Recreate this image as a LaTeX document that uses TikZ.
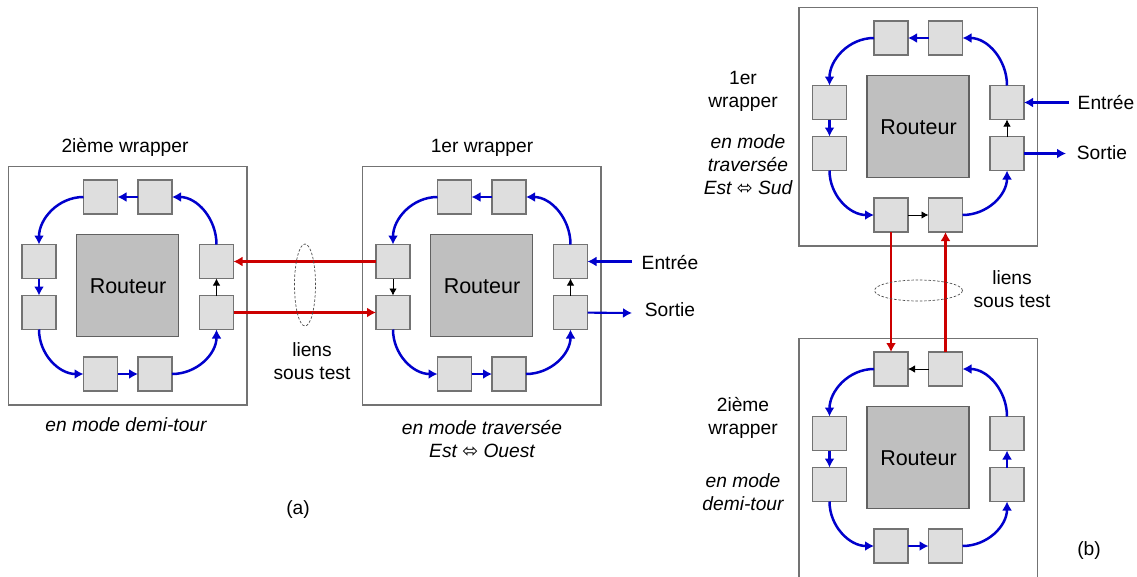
\documentclass[tikz,border=0pt]{standalone}
\usepackage{fontspec}
\setmainfont{Liberation Sans}
\newfontfamily\symfont{DejaVu Sans}
\usetikzlibrary{arrows.meta,shapes.geometric}
\definecolor{bluel}{HTML}{0000CC}
\definecolor{redl}{HTML}{CC0000}
\tikzset{
  outerbox/.style={draw=black!55,line width=1.1pt,fill=white,minimum width=238.5pt,inner sep=0pt,outer sep=0pt},
  routerbox/.style={draw=black!62,line width=1.3pt,fill=black!25,minimum size=102pt,inner sep=0pt,outer sep=0pt,font=\fontsize{21.5}{24}\selectfont},
  smallbox/.style={draw=black!55,line width=1.2pt,fill=black!13,minimum size=34pt,inner sep=0pt,outer sep=0pt},
  bl/.style={draw=bluel,line width=2.5pt,-{Latex[length=9pt,width=10pt]}},
  rd/.style={draw=redl,line width=2.5pt,-{Latex[length=9pt,width=10pt]}},
  bk/.style={draw=black,line width=0.9pt,-{Latex[length=7pt,width=7.5pt]}},
  lab/.style={align=center,inner sep=0pt,yshift=-1.5pt,font=\fontsize{19.2}{23}\selectfont},
  ilab/.style={lab,font=\fontsize{19.2}{23}\selectfont\itshape},
  ell/.style={draw=black!70,line width=0.7pt,dash pattern=on 2.5pt off 1.8pt},
}
\newcommand{\wrapbox}[4]{%
  \node[outerbox,minimum height=#4 pt] (#1O) at (#2+119.25,#3+#4/2) {};
  \node[routerbox] (#1C) at (#2+119,#3+119) {\raisebox{-7.8pt}[0pt][0pt]{\hspace{1pt}Routeur}};
  \node[smallbox] (#1T1) at (#2+92,#3+30.5) {};
  \node[smallbox] (#1T2) at (#2+146.5,#3+30.5) {};
  \node[smallbox] (#1L1) at (#2+30.5,#3+95) {};
  \node[smallbox] (#1L2) at (#2+30.5,#3+146) {};
  \node[smallbox] (#1R1) at (#2+208,#3+95) {};
  \node[smallbox] (#1R2) at (#2+208,#3+146) {};
  \node[smallbox] (#1B1) at (#2+92,#3+207.5) {};
  \node[smallbox] (#1B2) at (#2+146.5,#3+207.5) {};
  \draw[bl] (#1T1.west) to[out=180,in=90] (#1L1.north);
  \draw[bl] (#1L2.south) to[out=-90,in=180] (#1B1.west);
  \draw[bl] (#1B2.east) to[out=0,in=-90] (#1R2.south);
  \draw[bl] (#1R1.north) to[out=90,in=0] (#1T2.east);
}
\begin{document}
\begin{tikzpicture}[x=1pt,y=-1pt]
\useasboundingbox (0,0) rectangle (1137,576);
\wrapbox{a}{8.5}{166.5}{238.5}
\wrapbox{c}{362.5}{166.5}{238.5}
\wrapbox{d}{799}{7.5}{238.5}
\wrapbox{e}{799}{338.5}{246}
% wrapper a
\draw[bl] (aT2) -- (aT1);
\draw[bl] (aL1) -- (aL2);
\draw[bl] (aB1) -- (aB2);
\draw[bk] (aR2) -- (aR1);
% wrapper c
\draw[bl] (cT2) -- (cT1);
\draw[bk] (cL1) -- (cL2);
\draw[bl] (cB1) -- (cB2);
\draw[bk] (cR2) -- (cR1);
% wrapper d
\draw[bl] (dT2) -- (dT1);
\draw[bl] (dL1) -- (dL2);
\draw[bk] (dB1) -- (dB2);
\draw[bk] (dR2) -- (dR1);
% wrapper e
\draw[bk] (eT2) -- (eT1);
\draw[bl] (eL1) -- (eL2);
\draw[bl] (eB1) -- (eB2);
\draw[bl] (eR2) -- (eR1);
% red links
\draw[rd] (cL1) -- (aR1);
\draw[rd] (aR2) -- (cL2);
\draw[rd] (dB1) -- (eT1);
\draw[rd] (eT2) -- (dB2);
% in / out
\coordinate (cin) at (632,261.5);
\coordinate (cout) at (632,313);
\coordinate (din) at (1069,102.5);
\coordinate (dout) at (1066,153.5);
\draw[bl,line width=2.1pt] (cin) -- (cR1);
\draw[bl,line width=2.1pt] (cR2) -- (cout);
\draw[bl,line width=2.1pt] (din) -- (dR1);
\draw[bl,line width=2.1pt] (dR2) -- (dout);
% ellipses
\node[ell,ellipse,minimum width=21pt,minimum height=82pt,inner sep=0pt] (ea) at (305,285) {};
\node[ell,ellipse,minimum width=88pt,minimum height=21pt,inner sep=0pt] (eb) at (918.5,290.5) {};
% labels
\node[lab] (t1) at (125,146) {2ième wrapper};
\node[lab] (t2) at (482,146) {1er wrapper};
\node[ilab] (t3) at (126,423) {en mode demi-tour};
\node[ilab] (t4) at (482,437.5) {en mode traversée\\Est {\normalfont\symfont\fontsize{19}{23}\selectfont ⬄} Ouest};
\node[lab] (t5) at (312,360) {liens\\sous test};
\node[lab] (t6) at (298,508) {(a)};
\node[lab] (t7) at (1089,549) {(b)};
\node[lab] (t8) at (743,89.5) {1er\\wrapper};
\node[ilab] (t9) at (748,163) {en mode\\traversée\\Est {\normalfont\symfont\fontsize{19}{23}\selectfont ⬄} Sud};
\node[lab] (t10) at (743,416.5) {2ième\\wrapper};
\node[ilab] (t11) at (743,490.5) {en mode\\demi-tour};
\node[lab] (t12) at (670,261) {Entrée};
\node[lab] (t13) at (670,308) {Sortie};
\node[lab] (t14) at (1106,101) {Entrée};
\node[lab] (t15) at (1102,151) {Sortie};
\node[lab] (t16) at (1012,287.5) {liens\\sous test};
\end{tikzpicture}
\end{document}
